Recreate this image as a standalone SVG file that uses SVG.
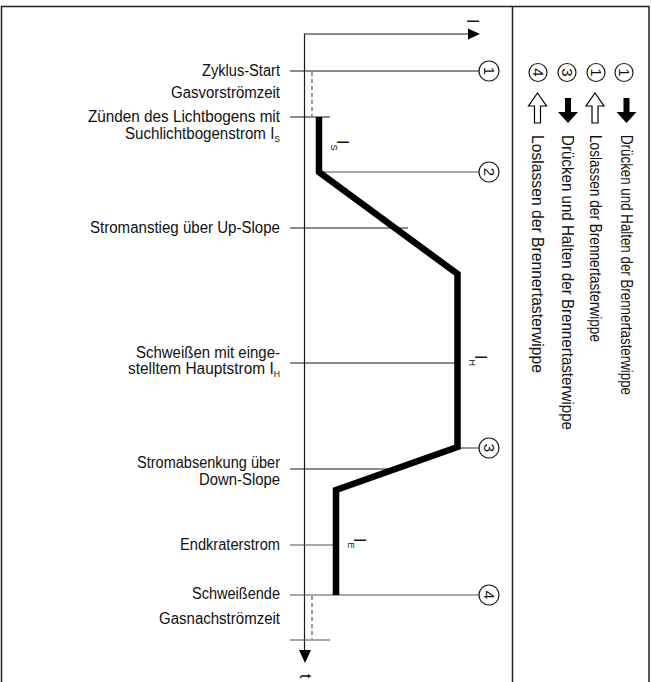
<svg xmlns="http://www.w3.org/2000/svg" width="651" height="682" viewBox="0 0 651 682">
<style>
text{font-family:"Liberation Sans",Arial,sans-serif;fill:#111}
.lbl{font-size:16px}
.sub{font-size:9px}
.num{font-size:15px;text-anchor:middle;dominant-baseline:central}
.ln{stroke:#1a1a1a;stroke-width:1.2;fill:none}
.lg{stroke:#555;stroke-width:1.2;fill:none}
.dash{stroke:#555;stroke-width:1.2;stroke-dasharray:4 3;fill:none}
.circ{fill:#fff;stroke:#1a1a1a;stroke-width:1.2}
</style>
<defs>
<path id="adown" d="M-3,0 H3 V14 H10 L0,25 L-10,14 H-3 Z" fill="#000"/>
<path id="aup" d="M0,0 L9,13 H3 V30 H-3 V13 H-9 Z" fill="#fff" stroke="#000" stroke-width="1.2"/>
</defs>
<rect x="1.5" y="6.5" width="647.5" height="690" fill="#fff" stroke="#222" stroke-width="1.5"/>
<line x1="512.5" y1="6.5" x2="512.5" y2="682" stroke="#222" stroke-width="1.5"/>

<g id="connectors">
<path class="ln" d="M304.5,652 V34 H468"/>
<polygon points="468,28.5 480,34 468,39.5" fill="#000"/>
<polygon points="299,650 311,650 305,663" fill="#000"/>
<line class="ln" x1="290" y1="71" x2="479" y2="71"/>
<line class="ln" x1="290" y1="117" x2="330" y2="117"/>
<line class="lg" x1="319" y1="172" x2="479" y2="172"/>
<line class="ln" x1="290" y1="228" x2="408" y2="228"/>
<line class="ln" x1="290" y1="363" x2="456" y2="363"/>
<line class="lg" x1="458" y1="448" x2="479" y2="448"/>
<line class="ln" x1="290" y1="469" x2="392" y2="469"/>
<line class="lg" x1="290" y1="545" x2="335" y2="545"/>
<line class="lg" x1="290" y1="595" x2="479" y2="595"/>
<line class="lg" x1="290" y1="640" x2="330" y2="640"/>
<line class="dash" x1="312" y1="72" x2="312" y2="116"/>
<line class="dash" x1="312" y1="596" x2="312" y2="639"/>
<path d="M319,117 V172 L457.5,274 V447 L336,490 V595" fill="none" stroke="#000" stroke-width="6.5" stroke-linejoin="miter"/>
</g>

<g id="axis-labels">
<text class="lbl" transform="translate(467,19) rotate(90)">I</text>
<text class="lbl" transform="translate(300,674) rotate(90)">t</text>
<text class="lbl" transform="translate(337,140) rotate(90)">I<tspan class="sub" dy="6">S</tspan></text>
<text class="lbl" transform="translate(475,355) rotate(90)">I<tspan class="sub" dy="6">H</tspan></text>
<text class="lbl" transform="translate(354,538) rotate(90)">I<tspan class="sub" dy="6">E</tspan></text>
</g>

<g id="left-labels">
<text class="lbl" x="202" y="76" textLength="78" lengthAdjust="spacingAndGlyphs">Zyklus-Start</text>
<text class="lbl" x="171" y="98" textLength="109" lengthAdjust="spacingAndGlyphs">Gasvorströmzeit</text>
<text class="lbl" x="88" y="122" textLength="192" lengthAdjust="spacingAndGlyphs">Zünden des Lichtbogens mit</text>
<text class="lbl" x="125" y="139" textLength="155" lengthAdjust="spacingAndGlyphs">Suchlichtbogenstrom I<tspan class="sub" dy="3">S</tspan></text>
<text class="lbl" x="90" y="233" textLength="190" lengthAdjust="spacingAndGlyphs">Stromanstieg über Up-Slope</text>
<text class="lbl" x="136" y="358" textLength="144" lengthAdjust="spacingAndGlyphs">Schweißen mit einge-</text>
<text class="lbl" x="128" y="374" textLength="152" lengthAdjust="spacingAndGlyphs">stelltem Hauptstrom I<tspan class="sub" dy="3">H</tspan></text>
<text class="lbl" x="137" y="468" textLength="143" lengthAdjust="spacingAndGlyphs">Stromabsenkung über</text>
<text class="lbl" x="199" y="485" textLength="81" lengthAdjust="spacingAndGlyphs">Down-Slope</text>
<text class="lbl" x="180" y="550" textLength="100" lengthAdjust="spacingAndGlyphs">Endkraterstrom</text>
<text class="lbl" x="192" y="599" textLength="88" lengthAdjust="spacingAndGlyphs">Schweißende</text>
<text class="lbl" x="159" y="624" textLength="121" lengthAdjust="spacingAndGlyphs">Gasnachströmzeit</text>
</g>

<g id="marker-1"><circle class="circ" cx="489" cy="71" r="10"/><text class="num" transform="translate(489,71) rotate(90)">1</text></g>
<g id="marker-2"><circle class="circ" cx="489" cy="172" r="10"/><text class="num" transform="translate(489,172) rotate(90)">2</text></g>
<g id="marker-3"><circle class="circ" cx="489" cy="448" r="10"/><text class="num" transform="translate(489,448) rotate(90)">3</text></g>
<g id="marker-4"><circle class="circ" cx="489" cy="595" r="10"/><text class="num" transform="translate(489,595) rotate(90)">4</text></g>

<g id="legend-1a">
<circle class="circ" cx="624" cy="72.5" r="9"/><text class="num" transform="translate(624,72.5) rotate(90)">1</text>
<use href="#adown" x="626.5" y="98"/>
<text class="lbl" transform="translate(621,135) rotate(90)" textLength="260" lengthAdjust="spacingAndGlyphs">Drücken und Halten der Brennertasterwippe</text>
</g>
<g id="legend-1b">
<circle class="circ" cx="596" cy="72.5" r="9"/><text class="num" transform="translate(596,72.5) rotate(90)">1</text>
<use href="#aup" x="595" y="93"/>
<text class="lbl" transform="translate(590,135) rotate(90)" textLength="207" lengthAdjust="spacingAndGlyphs">Loslassen der Brennertasterwippe</text>
</g>
<g id="legend-3">
<circle class="circ" cx="567" cy="72.5" r="9"/><text class="num" transform="translate(567,72.5) rotate(90)">3</text>
<use href="#adown" x="568" y="98"/>
<text class="lbl" transform="translate(562,135) rotate(90)" textLength="295" lengthAdjust="spacingAndGlyphs">Drücken und Halten der Brennertasterwippe</text>
</g>
<g id="legend-4">
<circle class="circ" cx="538" cy="72.5" r="9"/><text class="num" transform="translate(538,72.5) rotate(90)">4</text>
<use href="#aup" x="537.5" y="93"/>
<text class="lbl" transform="translate(532,135) rotate(90)" textLength="238" lengthAdjust="spacingAndGlyphs">Loslassen der Brennertasterwippe</text>
</g>
</svg>
